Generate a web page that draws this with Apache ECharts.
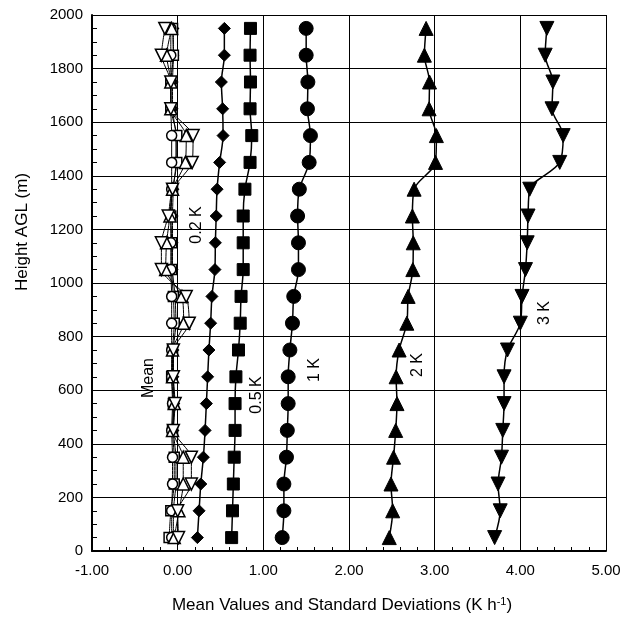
<!DOCTYPE html>
<html>
<head>
<meta charset="utf-8">
<script src="https://cdn.jsdelivr.net/npm/echarts@6/dist/echarts.min.js"></script>
<style>html,body{margin:0;padding:0;background:#fff;}#c{width:632px;height:619px;}</style>
</head>
<body>
<div id="c"></div>
<script>
// Heights (m AGL) of each level
const heights = [50,150,250,350,450,550,650,750,850,950,1050,1150,1250,1350,1450,1550,1650,1750,1850,1950];

// Standard deviations (K h-1)
const sd02 = [0.23,0.25,0.27,0.30,0.32,0.335,0.35,0.365,0.385,0.40,0.435,0.44,0.45,0.46,0.49,0.53,0.525,0.51,0.545,0.545];
const sd05 = [0.63,0.64,0.65,0.66,0.67,0.67,0.68,0.71,0.73,0.74,0.765,0.765,0.765,0.785,0.845,0.865,0.845,0.85,0.845,0.85];
const sd1  = [1.22,1.24,1.24,1.27,1.28,1.29,1.29,1.31,1.34,1.355,1.41,1.41,1.40,1.42,1.535,1.55,1.515,1.52,1.50,1.50];
const sd2  = [2.47,2.51,2.49,2.52,2.545,2.56,2.55,2.585,2.675,2.69,2.745,2.75,2.74,2.76,3.01,3.02,2.935,2.94,2.88,2.90];
const sd3  = [3.70,3.765,3.74,3.78,3.795,3.81,3.81,3.85,4.00,4.02,4.06,4.08,4.09,4.11,4.46,4.50,4.37,4.38,4.29,4.31];

// Mean values (K h-1)
const mean02 = [-0.05,-0.05,-0.02,-0.02,-0.05,-0.04,-0.05,-0.05,-0.02,-0.03,-0.06,-0.06,-0.06,-0.05,-0.02,-0.02,-0.06,-0.06,-0.05,-0.05];
const mean05 = [-0.10,-0.08,-0.04,-0.04,-0.06,-0.05,-0.07,-0.06,-0.04,-0.05,-0.07,-0.07,-0.08,-0.06,-0.01,-0.01,-0.08,-0.08,-0.05,-0.06];
const mean1  = [-0.07,-0.07,-0.06,-0.06,-0.07,-0.06,-0.07,-0.07,-0.07,-0.07,-0.08,-0.08,-0.08,-0.07,-0.07,-0.07,-0.08,-0.08,-0.08,-0.08];
const mean2  = [-0.04,0.015,0.065,0.065,-0.06,-0.04,-0.06,-0.06,0.07,0.05,-0.14,-0.13,-0.09,-0.06,0.09,0.10,-0.08,-0.08,-0.13,-0.07];
const mean3  = [0.01,0.00,0.16,0.16,-0.05,-0.03,-0.05,-0.05,0.135,0.10,-0.19,-0.19,-0.11,-0.06,0.17,0.18,-0.08,-0.08,-0.19,-0.15];

// Axis ticks
const xTicks = {min:-1, max:5, interval:1};
const yTicks = {min:0, max:2000, interval:200};

const pairs = v => v.map((x,i) => [x, heights[i]]);
const FONT = '"Liberation Sans", Arial, sans-serif';

function sdSeries(vals, symbol, size) {
  return {
    type:'line', data: pairs(vals), symbol: symbol, symbolSize: size, smooth: 0.3,
    lineStyle:{color:'#000', width:1.5}, itemStyle:{color:'#000', borderColor:'#000'}, z:3
  };
}
function meanSeries(vals, symbol, size) {
  return {
    type:'line', data: pairs(vals), symbol: symbol, symbolSize: size, smooth: 0.2,
    lineStyle:{color:'#000', width:1}, itemStyle:{color:'#fff', borderColor:'#000', borderWidth:1.5}, z:4
  };
}

const chart = echarts.init(document.getElementById('c'), null, {renderer:'canvas'});
chart.setOption({
  animation:false,
  backgroundColor:'#fff',
  grid:{left:92, right:26, top:15, bottom:67.5},
  xAxis:{
    type:'value', min:xTicks.min, max:xTicks.max, interval:xTicks.interval,
    axisLine:{show:true, onZero:false, lineStyle:{color:'#000', width:2}},
    axisTick:{show:true, inside:true, length:5, lineStyle:{color:'#000'}},
    minorTick:{show:true, splitNumber:5, length:4, lineStyle:{color:'#000'}},
    splitLine:{show:true, lineStyle:{color:'#000', width:1}},
    axisLabel:{color:'#000', fontFamily:FONT, fontSize:15, margin:12, formatter:v => v.toFixed(2)},
    name:'{a|Mean Values and Standard Deviations (K h}{s|-1}{a|)}',
    nameLocation:'middle', nameGap:45,
    nameTextStyle:{padding:[0,14,0,0], rich:{
      a:{fontFamily:FONT, fontSize:17, color:'#000'},
      s:{fontFamily:FONT, fontSize:11, color:'#000', verticalAlign:'top', padding:[0,0,8,0]}
    }}
  },
  yAxis:{
    type:'value', min:yTicks.min, max:yTicks.max, interval:yTicks.interval,
    axisLine:{show:true, onZero:false, lineStyle:{color:'#000', width:2}},
    axisTick:{show:true, inside:true, length:5, lineStyle:{color:'#000'}},
    minorTick:{show:true, splitNumber:4, length:5, lineStyle:{color:'#000'}},
    splitLine:{show:true, lineStyle:{color:'#000', width:1}},
    axisLabel:{color:'#000', fontFamily:FONT, fontSize:15, margin:9, formatter:v => String(v)}
  },
  graphic:[
    {type:'text', x:22, y:232, rotation:Math.PI/2, style:{text:'Height AGL (m)', font:'17px '+FONT, fill:'#000', align:'center', verticalAlign:'middle'}},
    {type:'text', x:149, y:378, rotation:Math.PI/2, style:{text:'Mean', font:'16px '+FONT, fill:'#000', align:'center', verticalAlign:'middle'}},
    {type:'text', x:197, y:225, rotation:Math.PI/2, style:{text:'0.2 K', font:'16px '+FONT, fill:'#000', align:'center', verticalAlign:'middle'}},
    {type:'text', x:257, y:395, rotation:Math.PI/2, style:{text:'0.5 K', font:'16px '+FONT, fill:'#000', align:'center', verticalAlign:'middle'}},
    {type:'text', x:315, y:370, rotation:Math.PI/2, style:{text:'1 K', font:'16px '+FONT, fill:'#000', align:'center', verticalAlign:'middle'}},
    {type:'text', x:418, y:365, rotation:Math.PI/2, style:{text:'2 K', font:'16px '+FONT, fill:'#000', align:'center', verticalAlign:'middle'}},
    {type:'text', x:545, y:313, rotation:Math.PI/2, style:{text:'3 K', font:'16px '+FONT, fill:'#000', align:'center', verticalAlign:'middle'}}
  ],
  series:[
    sdSeries(sd02, 'diamond', 12),
    sdSeries(sd05, 'rect', 12),
    sdSeries(sd1, 'circle', 14),
    sdSeries(sd2, 'triangle', 14),
    sdSeries(sd3, 'path://M0,0 L10,0 L5,9 Z', 14),
    meanSeries(mean02, 'diamond', 10),
    meanSeries(mean05, 'rect', 10),
    meanSeries(mean1, 'circle', 10),
    meanSeries(mean2, 'triangle', 12),
    meanSeries(mean3, 'path://M0,0 L10,0 L5,9 Z', 12)
  ]
});
</script>
</body>
</html>
